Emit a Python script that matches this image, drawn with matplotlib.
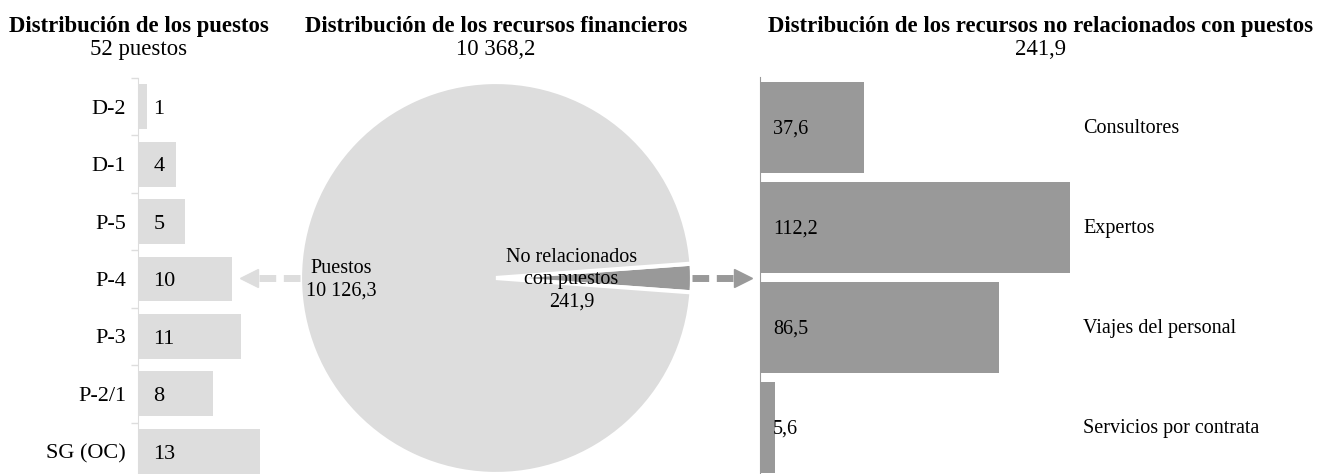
import numpy as np
import matplotlib.pyplot as plt

plt.rcParams['font.family'] = ['Liberation Serif', 'DejaVu Serif']
fs_head = 16.4
fs = 16
fs_small = 14.5

# data
grades = ['D-2', 'D-1', 'P-5', 'P-4', 'P-3', 'P-2/1', 'SG (OC)']
posts = [1, 4, 5, 10, 11, 8, 13]
total_posts = 52

pie_labels = ['No relacionados\ncon puestos\n241,9', 'Puestos\n10 126,3']
pie_values = [241.9, 10126.3]
total_resources = '10 368,2'

nonpost_items = ['Consultores', 'Expertos', 'Viajes del personal', 'Servicios por contrata']
nonpost_values = [37.6, 112.2, 86.5, 5.6]
nonpost_total = '241,9'

light = '#dddddd'
dark = '#999999'

W, H = 1317, 474
fig = plt.figure(figsize=(W / 100, H / 100), dpi=100)


def px_axes(left, top, width, height):
    return fig.add_axes([left / W, (H - top - height) / H, width / W, height / H])


# left: posts by grade
ax1 = px_axes(138, 78, 141, 402)
y1 = np.arange(len(grades))
ax1.barh(y1, posts, height=0.78, color=light)
ax1.set_xlim(0, 15)
ax1.set_ylim(len(grades) - 0.5, -0.5)
ax1.set_yticks(y1)
ax1.set_yticklabels(grades, fontsize=fs)
ax1.set_yticks(np.arange(-0.5, len(grades), 1), minor=True)
ax1.tick_params(axis='y', which='major', length=0, pad=8.5)
ax1.tick_params(axis='y', which='minor', length=5, color=light, width=1)
ax1.set_xticks([])
for s in ['top', 'right', 'bottom']:
    ax1.spines[s].set_visible(False)
ax1.spines['left'].set_color(light)
for i, v in enumerate(posts):
    ax1.annotate(str(v), (0, i), xytext=(11, -2), textcoords='offset points',
                 va='center', ha='left', fontsize=fs)

# middle: pie
ax2 = px_axes(300, 82, 392, 392)
half = pie_values[0] / sum(pie_values) * 180
wedges, _ = ax2.pie(pie_values, colors=[dark, light], startangle=-half,
                    counterclock=True,
                    wedgeprops=dict(edgecolor='white', linewidth=3))
ax2.set_xlim(-1, 1)
ax2.set_ylim(-1, 1)
ax2.set_aspect('equal')
ax2.axis('off')
ax2.text(0.385, -0.01, pie_labels[0], ha='center', va='center', fontsize=fs_small,
         linespacing=1.22)
ax2.text(-0.79, -0.01, pie_labels[1], ha='center', va='center', fontsize=fs_small,
         linespacing=1.22)

# dashed arrows out of the pie
ax2.plot([-1.0, -1.24], [0, 0], color=light, lw=5, dashes=(2.4, 1.1),
         solid_capstyle='butt', dash_capstyle='butt', clip_on=False)
ax2.plot([-1.262], [0], marker='<', ms=13, color=light, mec=light, clip_on=False)
ax2.plot([1.0, 1.24], [0, 0], color=dark, lw=5, dashes=(2.4, 1.1),
         solid_capstyle='butt', dash_capstyle='butt', clip_on=False)
ax2.plot([1.258], [0], marker='>', ms=13, color=dark, mec=dark, clip_on=False)

# right: non-post resources
ax3 = px_axes(760, 77, 557, 400)
y3 = np.arange(len(nonpost_items))
ax3.barh(y3, nonpost_values, height=0.91, color=dark)
ax3.set_xlim(0, 557 / 2.765)
ax3.set_ylim(len(nonpost_items) - 0.5, -0.5)
ax3.set_xticks([])
ax3.set_yticks([])
for s in ['top', 'right', 'bottom']:
    ax3.spines[s].set_visible(False)
ax3.spines['left'].set_color(dark)
for i, v in enumerate(nonpost_values):
    ax3.annotate(f'{v:.1f}'.replace('.', ','), (0, i), xytext=(9.5, -1.5),
                 textcoords='offset points', va='center', ha='left', fontsize=fs_small)
    ax3.annotate(nonpost_items[i], (0.58, i), xycoords=ax3.get_yaxis_transform(),
                 xytext=(0, -1), textcoords='offset points',
                 va='center', ha='left', fontsize=fs_small)

# headings
heads = [
    (139, 'Distribución de los puestos', f'{total_posts} puestos'),
    (496, 'Distribución de los recursos financieros', total_resources),
    (1040, 'Distribución de los recursos no relacionados con puestos', nonpost_total),
]
for x, t, sub in heads:
    fig.text(x / W, 1 - 32 / H, t, ha='center', va='baseline', fontsize=fs_head,
             fontweight='bold')
    fig.text(x / W, 1 - 55 / H, sub, ha='center', va='baseline', fontsize=fs_head)

fig.savefig('out.png', dpi=100)
